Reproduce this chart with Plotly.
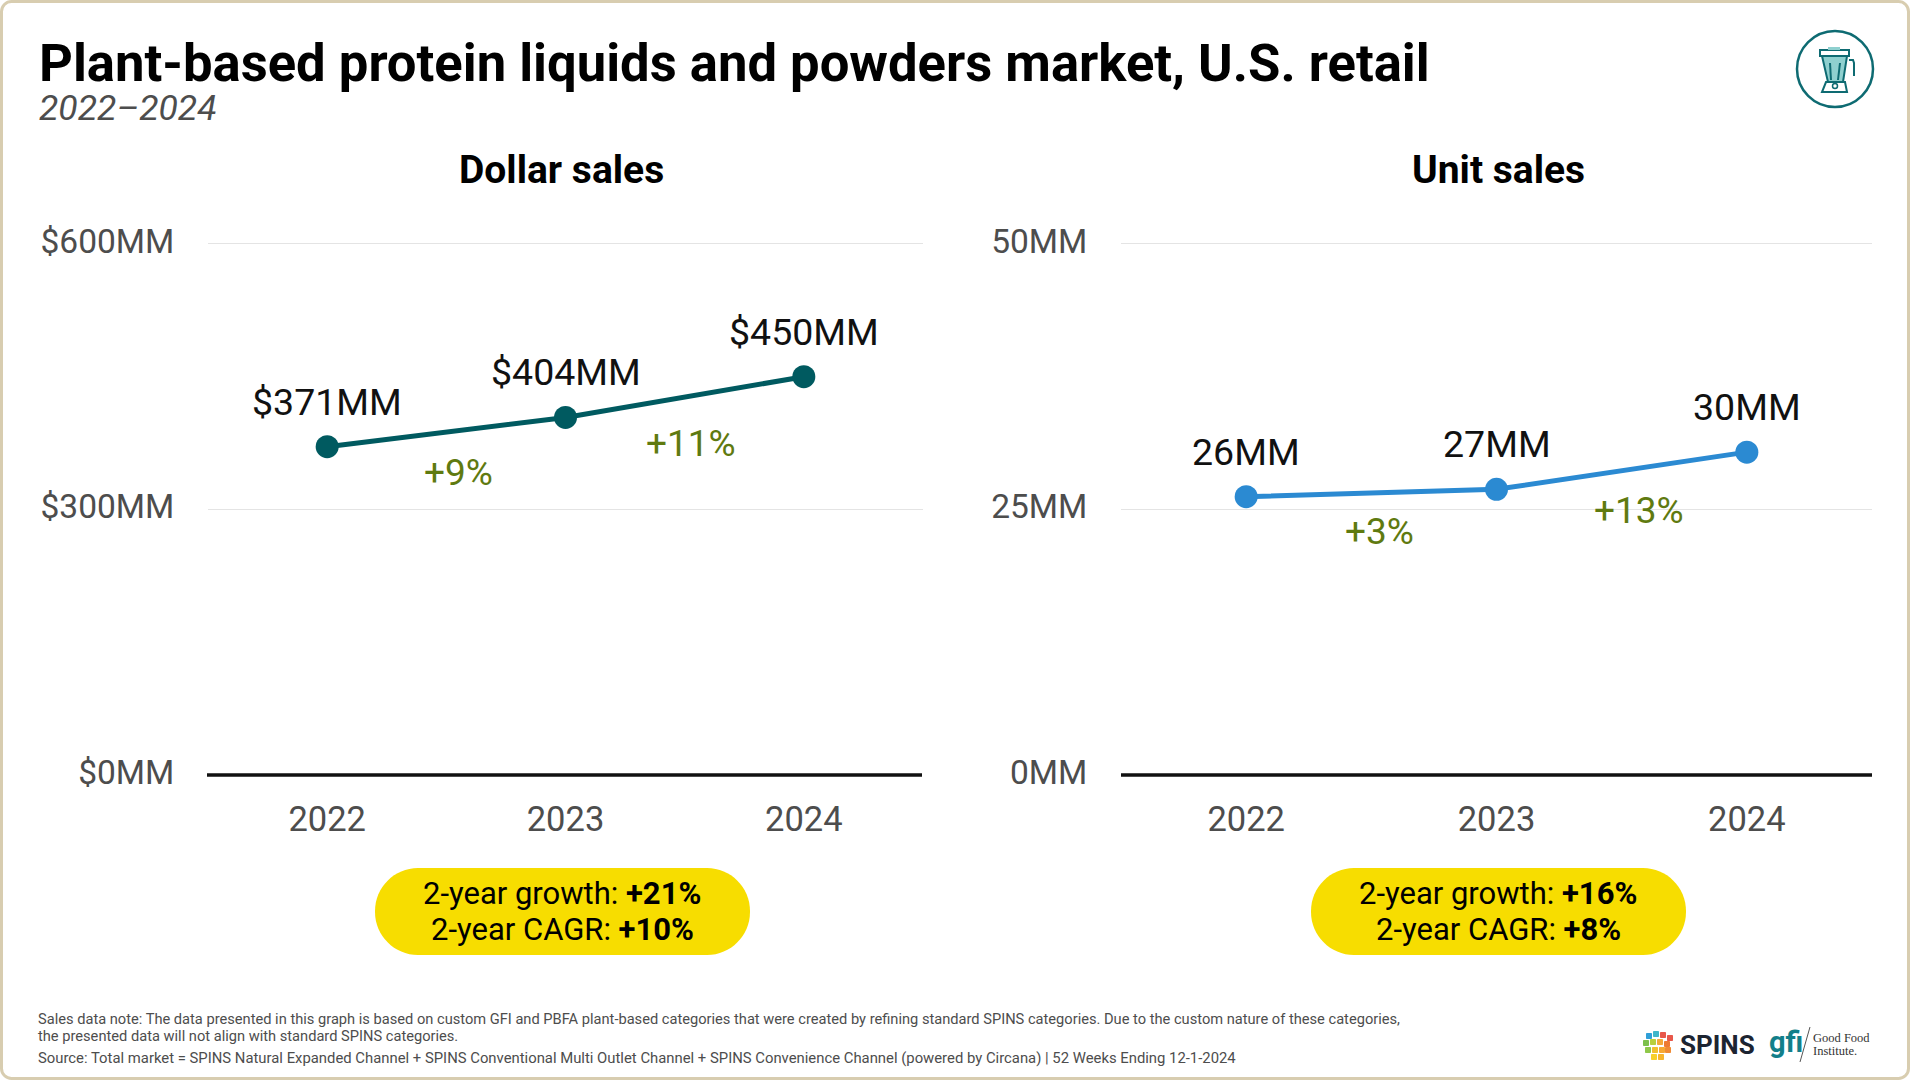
import plotly.graph_objects as go
from plotly.subplots import make_subplots

W = 1910
H = 1080
FONT = "Roboto"

years = ["2022", "2023", "2024"]
dollar_sales = [371, 404, 450]
dollar_labels = ["$371MM", "$404MM", "$450MM"]
unit_sales = [26.2, 26.9, 30.4]
unit_labels = ["26MM", "27MM", "30MM"]

dollar_ticks = [0, 300, 600]
dollar_ticktext = ["$0MM", "$300MM", "$600MM"]
unit_ticks = [0, 25, 50]
unit_ticktext = ["0MM", "25MM", "50MM"]

dollar_growth = ["+9%", "+11%"]
unit_growth = ["+3%", "+13%"]

TEAL = "#005a60"
BLUE = "#2b8ad2"
GREEN = "#5f7a10"
GREY = "#4d4d4d"
YELLOW = "#f7dd00"
ICON = "#0e6b72"


def px(x):
    return x / W


def py(y):
    return 1 - y / H


def rounded(x0, y0, x1, y1, r):
    # rounded rect as a path in paper coords, args are in screen pixels
    k = r * 0.45
    pts = [
        ("M", x0 + r, y0), ("L", x1 - r, y0), ("C", x1 - k, y0, x1, y0 + k, x1, y0 + r),
        ("L", x1, y1 - r), ("C", x1, y1 - k, x1 - k, y1, x1 - r, y1), ("L", x0 + r, y1),
        ("C", x0 + k, y1, x0, y1 - k, x0, y1 - r), ("L", x0, y0 + r),
        ("C", x0, y0 + k, x0 + k, y0, x0 + r, y0),
    ]
    out = ""
    for p in pts:
        coords = []
        for i in range(1, len(p), 2):
            coords.append(f"{px(p[i]):.5f},{py(p[i + 1]):.5f}")
        out += p[0] + " ".join(coords) + " "
    return out + "Z"


def poly(points, close=True):
    out = "M" + " L".join(f"{px(x):.5f},{py(y):.5f}" for x, y in points)
    return out + (" Z" if close else "")


fig = make_subplots(rows=1, cols=2)

fig.add_trace(go.Scatter(
    x=years, y=dollar_sales, mode="lines+markers",
    line=dict(color=TEAL, width=5), marker=dict(color=TEAL, size=23),
    cliponaxis=False, hoverinfo="skip",
), row=1, col=1)

fig.add_trace(go.Scatter(
    x=years, y=unit_sales, mode="lines+markers",
    line=dict(color=BLUE, width=5), marker=dict(color=BLUE, size=23),
    cliponaxis=False, hoverinfo="skip",
), row=1, col=2)

# value labels sit on the data points, category axes want the index not the name
for xr, yr, vals, labels in [("x", "y", dollar_sales, dollar_labels), ("x2", "y2", unit_sales, unit_labels)]:
    for i, (val, lab) in enumerate(zip(vals, labels)):
        fig.add_annotation(
            xref=xr, yref=yr, x=i, y=val, text=lab, showarrow=False,
            yanchor="middle", yshift=45,
            font=dict(family=FONT, size=37.5, color="#111111"),
        )

x_style = dict(
    type="category", range=[-0.5, 2.5], showgrid=False, showline=False, automargin=False,
    zeroline=False, ticks="outside", ticklen=14, tickcolor="rgba(0,0,0,0)",
    tickfont=dict(family=FONT, size=34.5, color=GREY),
)
y_style = dict(
    showgrid=True, gridcolor="#e4e4e4", gridwidth=1, zeroline=False, showline=False, automargin=False,
    ticks="outside", ticklen=26, tickcolor="rgba(0,0,0,0)", ticklabelshift=-3,
    tickfont=dict(family=FONT, size=33.5, color=GREY),
)
# top of the range is a touch over the last tick, otherwise plotly drops that gridline
fig.update_layout(
    xaxis=dict(domain=[px(208), px(923)], **x_style),
    xaxis2=dict(domain=[px(1121), px(1872)], **x_style),
    yaxis=dict(domain=[py(775), py(242.2)], range=[0, 602], tickvals=dollar_ticks,
               ticktext=dollar_ticktext, **y_style),
    yaxis2=dict(domain=[py(775), py(242.2)], range=[0, 50.167], tickvals=unit_ticks,
                ticktext=unit_ticktext, **y_style),
)


def text(x, y, s, size, color="#000000", anchor="center", family=FONT, **kw):
    fig.add_annotation(
        xref="paper", yref="paper", x=px(x), y=py(y), text=s, showarrow=False,
        xanchor=anchor, yanchor="middle", align=anchor,
        font=dict(family=family, size=size, color=color), **kw,
    )


def shape_path(path, fill=None, line=None, width=0):
    fig.add_shape(
        type="path", xref="paper", yref="paper", path=path,
        fillcolor=fill if fill else "rgba(0,0,0,0)",
        line=dict(color=line if line else "rgba(0,0,0,0)", width=width),
    )


def circle(cx, cy, r, fill=None, line=None, width=0):
    fig.add_shape(
        type="circle", xref="paper", yref="paper",
        x0=px(cx - r), x1=px(cx + r), y0=py(cy + r), y1=py(cy - r),
        fillcolor=fill if fill else "rgba(0,0,0,0)",
        line=dict(color=line if line else "rgba(0,0,0,0)", width=width),
    )


# frame
shape_path(rounded(1.5, 1.5, W - 1.5, H - 1.5, 10), line="#d8cdb0", width=3)

# headings
text(37, 63, "<b>Plant-based protein liquids and powders market, U.S. retail</b>", 52.6, anchor="left")
text(37, 108, "<i>2022–2024</i>", 35.5, GREY, anchor="left")
text(561.5, 170, "<b>Dollar sales</b>", 39)
text(1498, 170, "<b>Unit sales</b>", 39)

# growth between the points
text(458, 472, dollar_growth[0], 37, GREEN)
text(691, 443, dollar_growth[1], 37, GREEN)
text(1379, 531, unit_growth[0], 37, GREEN)
text(1639, 510, unit_growth[1], 37, GREEN)

# baselines
for x0, x1 in [(207, 922), (1121, 1872)]:
    fig.add_shape(type="line", xref="paper", yref="paper", x0=px(x0), x1=px(x1),
                  y0=py(775), y1=py(775), line=dict(color="#111111", width=3.5))

# growth pills
shape_path(rounded(375, 868, 750, 955, 43), fill=YELLOW)
shape_path(rounded(1311, 868, 1686, 955, 43), fill=YELLOW)
text(562, 894, "2-year growth: <b>+21%</b>", 31)
text(562, 929, "2-year CAGR: <b>+10%</b>", 31)
text(1498, 894, "2-year growth: <b>+16%</b>", 31)
text(1498, 929, "2-year CAGR: <b>+8%</b>", 31)

# footnotes
text(36, 1019, "Sales data note: The data presented in this graph is based on custom GFI and PBFA "
     "plant-based categories that were created by refining standard SPINS categories. "
     "Due to the custom nature of these categories,", 14.65, GREY, anchor="left")
text(36, 1036, "the presented data will not align with standard SPINS categories.", 14.65, GREY, anchor="left")
text(36, 1058, "Source: Total market = SPINS Natural Expanded Channel + SPINS Conventional Multi Outlet "
     "Channel + SPINS Convenience Channel (powered by Circana) | 52 Weeks Ending 12-1-2024",
     14.85, GREY, anchor="left")

# blender icon
circle(1835, 69, 38, line=ICON, width=2.5)
shape_path(poly([(1822, 56), (1847, 56), (1843, 82), (1828, 82)]), fill="#8fd0cf", line=ICON, width=2)
shape_path(poly([(1820, 50), (1849, 50), (1849, 56), (1820, 56)]), fill="#ffffff", line=ICON, width=2)
shape_path(poly([(1828, 47), (1840, 47), (1840, 50), (1828, 50)]), fill="#8fd0cf")
shape_path(poly([(1826, 82), (1845, 82), (1847, 92), (1822, 92)]), fill="#ffffff", line=ICON, width=2)
shape_path(poly([(1849, 60), (1853, 60), (1854, 63), (1854, 76)], close=False), line=ICON, width=2)
shape_path(poly([(1830, 63), (1831, 80)], close=False), line=ICON, width=2)
shape_path(poly([(1840, 63), (1838, 80)], close=False), line=ICON, width=2)
circle(1835, 86, 2.5, fill="#ffffff", line=ICON, width=1.5)

# SPINS globe, little colour tiles
globe = [
    (1649, 1036, "#2f9fd8"), (1656, 1034, "#3fb6c9"), (1663, 1035, "#e8574a"), (1670, 1038, "#e8574a"),
    (1646, 1043, "#7cc04b"), (1653, 1042, "#b9cf3e"), (1660, 1042, "#f4a93a"), (1667, 1044, "#ee7a33"),
    (1648, 1050, "#8fc84a"), (1655, 1050, "#f2c02f"), (1662, 1050, "#f6a832"), (1668, 1050, "#f08a33"),
    (1654, 1057, "#f7d02c"), (1661, 1057, "#f7b52c"),
]
for gx, gy, gc in globe:
    shape_path(rounded(gx - 3, gy - 3, gx + 3, gy + 3, 1), fill=gc)

text(1678, 1045, "<b>SPINS</b>", 26, "#1c2431", anchor="left")
text(1767, 1042, "<b>gfi</b>", 29, "#137f8a", anchor="left")
shape_path(poly([(1810, 1027), (1800, 1062)], close=False), line="#555555", width=1)
text(1811, 1038, "Good Food", 12.5, "#333333", anchor="left", family="Liberation Serif")
text(1811, 1051, "Institute.", 12.5, "#333333", anchor="left", family="Liberation Serif")

fig.update_layout(
    width=W, height=H, margin=dict(l=0, r=0, t=0, b=0), showlegend=False,
    paper_bgcolor="white", plot_bgcolor="white",
)

fig.write_html("out.html", config={"displayModeBar": False},
               post_script="document.body.style.margin='0';")
